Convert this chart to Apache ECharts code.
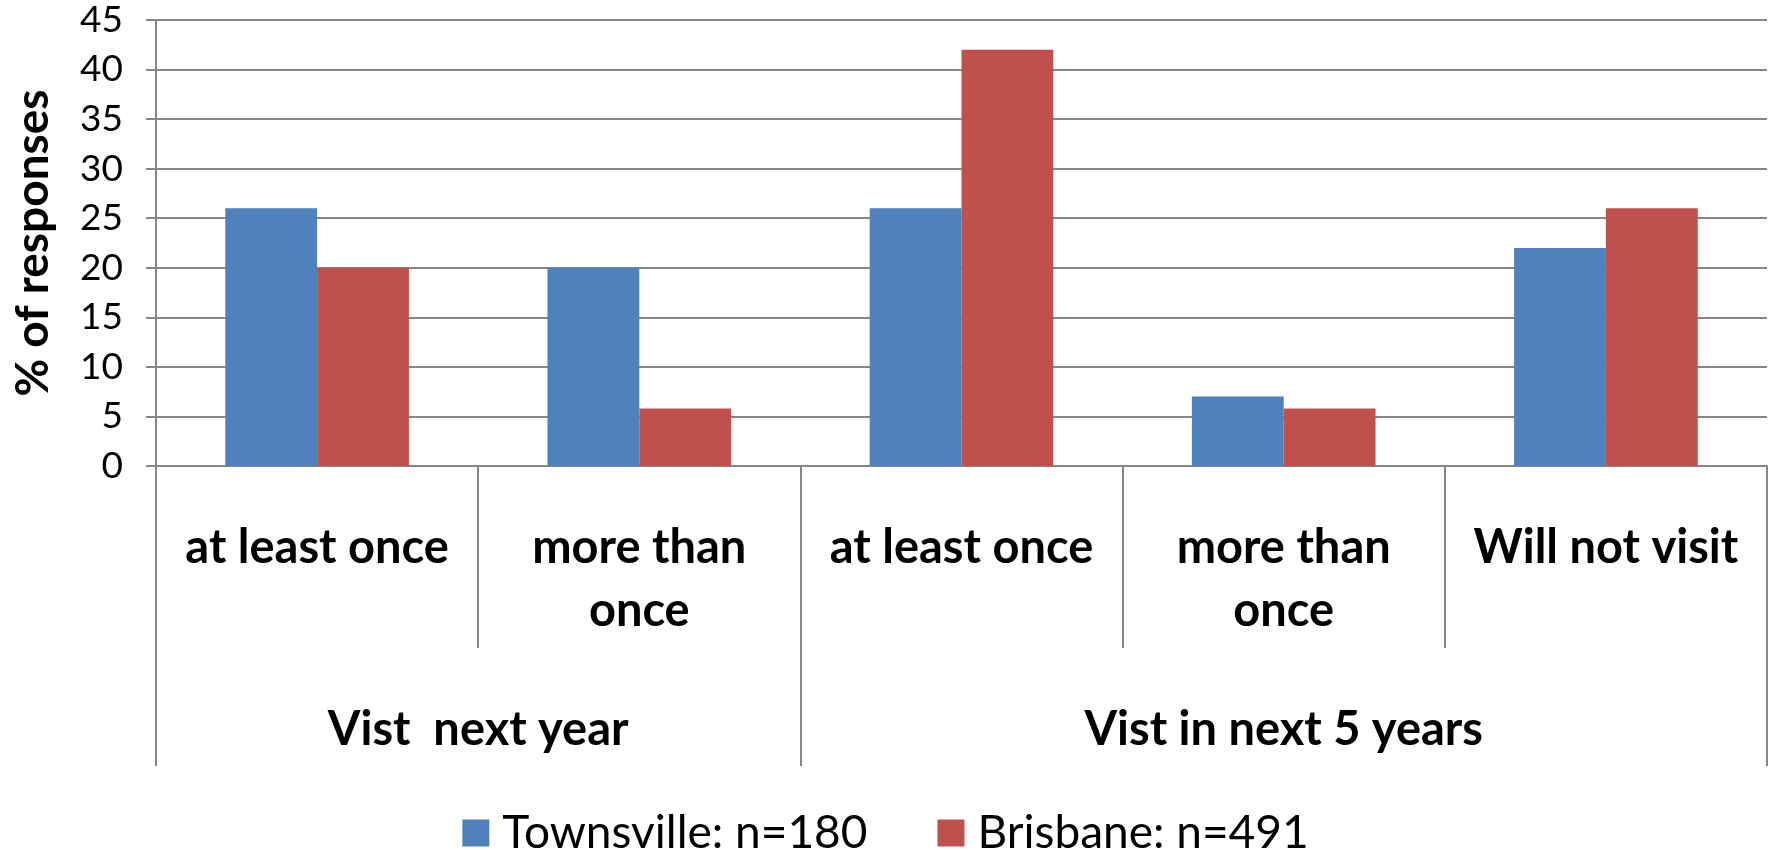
<!DOCTYPE html>
<html>
<head>
<meta charset="utf-8">
<script src="https://cdn.jsdelivr.net/npm/echarts@6/dist/echarts.min.js"></script>
<style>html,body{margin:0;padding:0;background:#fff;}#chart{width:1771px;height:850px;}</style>
</head>
<body>
<div id="chart"></div>
<script>
var subCategories = ['at least once', 'more than\nonce', 'at least once', 'more than\nonce', 'Will not visit'];
var groupLabels = ['Vist  next year', 'Vist in next 5 years'];
var groupBoundaries = [0, 2, 5];
var groupCenters = [1, 3.5];
var townsville = [26, 20, 26, 7, 22];
var brisbane = [20, 5.8, 42, 5.8, 26];
var seriesNames = ['Townsville: n=180', 'Brisbane: n=491'];
var yTicks = [0, 5, 10, 15, 20, 25, 30, 35, 40, 45];

var FONT = 'Lato';
var GRID = '#868686';
var chart = echarts.init(document.getElementById('chart'), null, {renderer: 'canvas'});
chart.setOption({
  animation: false,
  backgroundColor: '#ffffff',
  color: ['#4F81BD', '#C0504D'],
  grid: {left: 156, right: 4, top: 20, bottom: 384, containLabel: false},
  legend: {
    data: seriesNames,
    left: 'center',
    top: 805,
    icon: 'rect',
    itemWidth: 27,
    itemHeight: 27,
    itemGap: 70,
    textStyle: {fontFamily: FONT, fontSize: 46, color: '#000', padding: [0, 0, 0, 8]}
  },
  xAxis: [
    {
      type: 'category',
      data: subCategories,
      position: 'bottom',
      boundaryGap: true,
      axisLine: {show: true, lineStyle: {color: GRID, width: 2}},
      axisTick: {show: true, interval: 0, length: 182, lineStyle: {color: GRID, width: 2}},
      axisLabel: {interval: 0, margin: 50, fontFamily: FONT, fontWeight: 'bold', fontSize: 47, lineHeight: 63, color: '#000', align: 'center'},
      splitLine: {show: false}
    },
    {
      type: 'value',
      min: 0,
      max: 5,
      position: 'bottom',
      axisLine: {show: false},
      splitLine: {show: false},
      axisTick: {show: true, customValues: groupBoundaries, length: 300, lineStyle: {color: GRID, width: 2}},
      axisLabel: {
        show: true, customValues: groupCenters, margin: 240,
        fontFamily: FONT, fontWeight: 'bold', fontSize: 47, color: '#000',
        formatter: function (v) { return groupLabels[groupCenters.indexOf(v)]; }
      }
    }
  ],
  yAxis: {
    type: 'value',
    min: 0,
    max: 45,
    interval: 5,
    name: '% of responses',
    nameLocation: 'middle',
    nameRotate: 90,
    nameGap: 100,
    nameTextStyle: {fontFamily: FONT, fontWeight: 'bold', fontSize: 46, color: '#000'},
    axisLine: {show: true, lineStyle: {color: GRID, width: 2}},
    axisTick: {show: true, length: 10, lineStyle: {color: GRID, width: 2}},
    axisLabel: {margin: 33, fontFamily: FONT, fontSize: 37, color: '#000'},
    splitLine: {show: true, lineStyle: {color: GRID, width: 2}}
  },
  series: [
    {name: seriesNames[0], type: 'bar', xAxisIndex: 0, data: townsville, barGap: '0%', barCategoryGap: '43%'},
    {name: seriesNames[1], type: 'bar', xAxisIndex: 0, data: brisbane, barGap: '0%', barCategoryGap: '43%'}
  ]
});
</script>
</body>
</html>
